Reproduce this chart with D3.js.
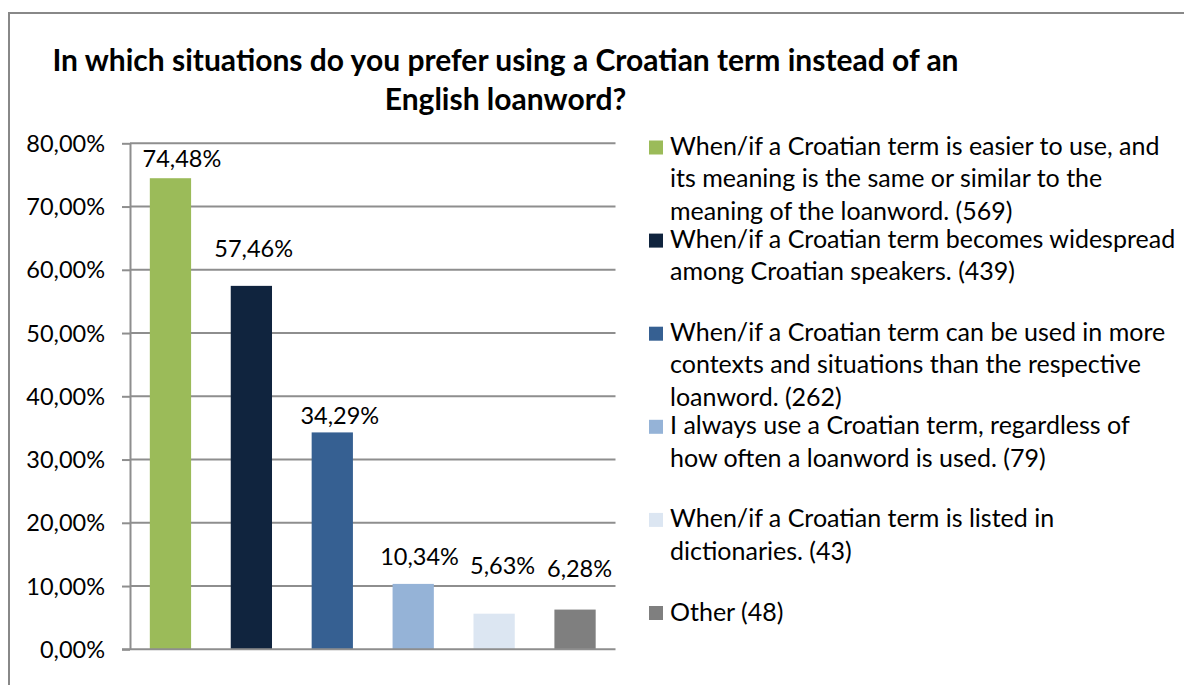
<!DOCTYPE html>
<html>
<head>
<meta charset="utf-8">
<script src="https://cdn.jsdelivr.net/npm/d3@7"></script>
<style>
  html, body { margin: 0; padding: 0; background: #fff; }
  svg { display: block; }
  text { font-family: Lato, "Open Sans", sans-serif; fill: #000; }
</style>
</head>
<body>
<svg id="chart" width="1184" height="685"></svg>
<script>
// ---- data ----
const categories = [
  "When/if a Croatian term is easier to use, and\nits meaning is the same or similar to the\nmeaning of the loanword. (569)",
  "When/if a Croatian term becomes widespread\namong Croatian speakers. (439)",
  "When/if a Croatian term can be used in more\ncontexts and situations than the respective\nloanword. (262)",
  "I always use a Croatian term, regardless of\nhow often a loanword is used. (79)",
  "When/if a Croatian term is listed in\ndictionaries. (43)",
  "Other (48)"
];
const values = [0.7448, 0.5746, 0.3429, 0.1034, 0.0563, 0.0628];
const tickValues = [0, 0.1, 0.2, 0.3, 0.4, 0.5, 0.6, 0.7, 0.8];
const titleLines = ["In which situations do you prefer using a Croatian term instead of an", "English loanword?"];

// ---- styling / layout ----
const colors = ["#9BBB59", "#10243E", "#366092", "#95B3D7", "#DCE6F2", "#7F7F7F"];
const labelLift = [11.5, 29, 8.5, 19, 39.5, 33];   // data-label offsets above bars (Excel placement)
const labelShift = [11.5, 2.3, 7.5, 6.3, 8.5, 4.5]; // data-label offsets right of bar centre
const plot = { left: 130, right: 615.5, top: 143.3, bottom: 649.3 };
const gridColor = "#8e8e8e";

const fmt = v => (v * 100).toFixed(2).replace(".", ",") + "%";

const svg = d3.select("#chart");

// outer frame
svg.append("rect")
  .attr("x", 9).attr("y", 13).attr("width", 1200).attr("height", 700)
  .attr("fill", "none").attr("stroke", "#888").attr("stroke-width", 2);

// title
svg.append("text")
  .attr("text-anchor", "middle")
  .attr("font-weight", "bold")
  .attr("font-size", 30)
  .selectAll("tspan").data(titleLines).join("tspan")
  .attr("x", 505.5)
  .attr("y", (d, i) => 70.5 + i * 39.5)
  .text(d => d);

const x = d3.scaleBand()
  .domain(d3.range(values.length))
  .range([plot.left, plot.right])
  .paddingInner(0.49)
  .paddingOuter(0.245);

const y = d3.scaleLinear()
  .domain([0, 0.8])
  .range([plot.bottom, plot.top]);

// gridlines
svg.append("g")
  .selectAll("line").data(tickValues.slice(1)).join("line")
  .attr("x1", plot.left).attr("x2", plot.right)
  .attr("y1", d => y(d)).attr("y2", d => y(d))
  .attr("stroke", gridColor).attr("stroke-width", 2);

// y axis
const yAxis = d3.axisLeft(y)
  .tickValues(tickValues)
  .tickSize(8)
  .tickSizeOuter(0)
  .tickPadding(17)
  .tickFormat(fmt);

const gy = svg.append("g")
  .attr("transform", `translate(${plot.left},0)`)
  .call(yAxis);
gy.select(".domain").attr("stroke", gridColor).attr("stroke-width", 2);
gy.selectAll(".tick line").attr("stroke", gridColor).attr("stroke-width", 2);
gy.selectAll(".tick text")
  .attr("font-family", "Lato, sans-serif")
  .attr("font-size", 23.5)
  .attr("fill", "#000")
  .attr("dy", "0.34em");

// bars
svg.append("g")
  .selectAll("rect").data(values).join("rect")
  .attr("x", (d, i) => x(i))
  .attr("width", x.bandwidth())
  .attr("y", d => y(d))
  .attr("height", d => y(0) - y(d))
  .attr("fill", (d, i) => colors[i]);

// x axis baseline
svg.append("line")
  .attr("x1", plot.left - 8).attr("x2", plot.right)
  .attr("y1", y(0)).attr("y2", y(0))
  .attr("stroke", gridColor).attr("stroke-width", 2);

// data labels
svg.append("g")
  .selectAll("text").data(values).join("text")
  .attr("x", (d, i) => x(i) + x.bandwidth() / 2 + labelShift[i])
  .attr("y", (d, i) => y(d) - labelLift[i])
  .attr("text-anchor", "middle")
  .attr("font-size", 23.5)
  .text(d => fmt(d));

// legend
const legend = svg.append("g");
const slot = 93.1;
const item = legend.selectAll("g").data(categories).join("g")
  .attr("transform", (d, i) => `translate(649,${155 + i * slot})`);
item.append("rect")
  .attr("x", 0).attr("y", -14.5)
  .attr("width", 14).attr("height", 14)
  .attr("fill", (d, i) => colors[i]);
item.append("text")
  .attr("font-size", 25)
  .selectAll("tspan").data(d => d.split("\n")).join("tspan")
  .attr("x", 21)
  .attr("y", (d, i) => i * 32.3)
  .text(d => d);
</script>
</body>
</html>
